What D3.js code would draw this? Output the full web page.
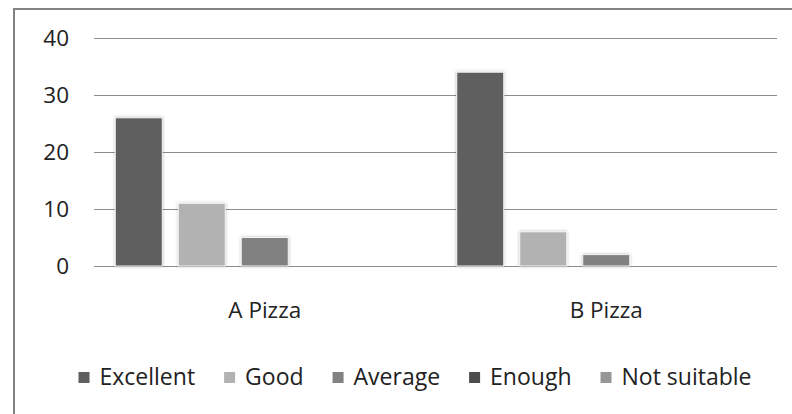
<!DOCTYPE html>
<html>
<head>
<meta charset="utf-8">
<script src="https://cdn.jsdelivr.net/npm/d3@7"></script>
<style>
  html, body { margin: 0; padding: 0; background: #fff; }
  svg { display: block; }
  text { font-family: "Open Sans", sans-serif; fill: #222; }
</style>
</head>
<body>
<svg id="chart" width="792" height="414"></svg>
<script>
const categories = ["A Pizza", "B Pizza"];
const seriesNames = ["Excellent", "Good", "Average", "Enough", "Not suitable"];
const excellent = [26, 34];
const good = [11, 6];
const average = [5, 2];
const enough = [0, 0];
const notSuitable = [0, 0];
const yTicks = [0, 10, 20, 30, 40];
const seriesColors = ["#5f5f5f", "#b2b2b2", "#818181", "#4d4d4d", "#979797"];

const seriesValues = [excellent, good, average, enough, notSuitable];

const svg = d3.select("#chart");
const W = 792, H = 414;
const plot = { left: 94, right: 777, top: 38, bottom: 266 };

const defs = svg.append("defs");
const f = defs.append("filter").attr("id", "shadow")
  .attr("x", "-20%").attr("y", "-20%").attr("width", "140%").attr("height", "140%");
f.append("feDropShadow").attr("dx", 0).attr("dy", 0).attr("stdDeviation", 1.6)
  .attr("flood-color", "#000").attr("flood-opacity", 0.28);

svg.append("rect").attr("x", 14).attr("y", 9).attr("width", W + 20).attr("height", H + 20)
  .attr("fill", "none").attr("stroke", "#828282").attr("stroke-width", 2);

const y = d3.scaleLinear().domain([0, 40]).range([plot.bottom, plot.top]);
const x0 = d3.scaleBand().domain(categories).range([plot.left, plot.right])
  .paddingInner(0.1245).paddingOuter(0.06225);
const x1 = d3.scaleBand().domain(seriesNames).range([0, x0.bandwidth()])
  .paddingInner(0.254).paddingOuter(0);

svg.append("g").selectAll("line").data(yTicks).join("line")
  .attr("x1", plot.left).attr("x2", plot.right)
  .attr("y1", d => Math.round(y(d)) + 0.5).attr("y2", d => Math.round(y(d)) + 0.5)
  .attr("stroke", "#8c8c8c").attr("stroke-width", 1.2);

const yAxis = d3.axisLeft(y).tickValues(yTicks).tickSize(0).tickPadding(0).tickFormat(d3.format("d"));
const ga = svg.append("g").attr("transform", `translate(69,0)`).call(yAxis);
ga.select(".domain").remove();
ga.selectAll("text").attr("font-size", 22.5).attr("fill", "#222")
  .attr("font-family", "'Open Sans', sans-serif");

const groups = svg.append("g").selectAll("g").data(categories).join("g")
  .attr("transform", d => `translate(${x0(d)},0)`);
groups.selectAll("rect")
  .data((c, ci) => seriesNames.map((s, si) => ({ s, si, v: seriesValues[si][ci] })).filter(d => d.v > 0))
  .join("rect")
  .attr("x", d => x1(d.s))
  .attr("width", x1.bandwidth())
  .attr("y", d => y(d.v))
  .attr("height", d => y(0) - y(d.v))
  .attr("fill", d => seriesColors[d.si])
  .attr("stroke", "#f4f4f4").attr("stroke-width", 1)
  .attr("filter", "url(#shadow)");

const xAxis = d3.axisBottom(x0).tickSize(0).tickPadding(0);
const gx = svg.append("g").attr("transform", `translate(0,318)`).call(xAxis);
gx.select(".domain").remove();
gx.selectAll("text").attr("font-size", 22.5).attr("fill", "#222").attr("dy", 0)
  .attr("font-family", "'Open Sans', sans-serif");

const legend = svg.append("g");
const items = legend.selectAll("g").data(seriesNames).join("g");
items.append("rect").attr("x", 0).attr("y", 372).attr("width", 11).attr("height", 11)
  .attr("fill", (d, i) => seriesColors[i]);
items.append("text").attr("x", 21).attr("y", 384.5).attr("font-size", 23).text(d => d);
let cx = 0;
const offsets = [];
const gap = 29;
items.each(function (d) {
  offsets.push(cx);
  const w = d3.select(this).select("text").node().getComputedTextLength();
  cx += 21 + w + gap;
});
const total = cx - gap;
const startX = 415 - total / 2;
items.attr("transform", (d, i) => `translate(${startX + offsets[i]},0)`);
</script>
</body>
</html>
